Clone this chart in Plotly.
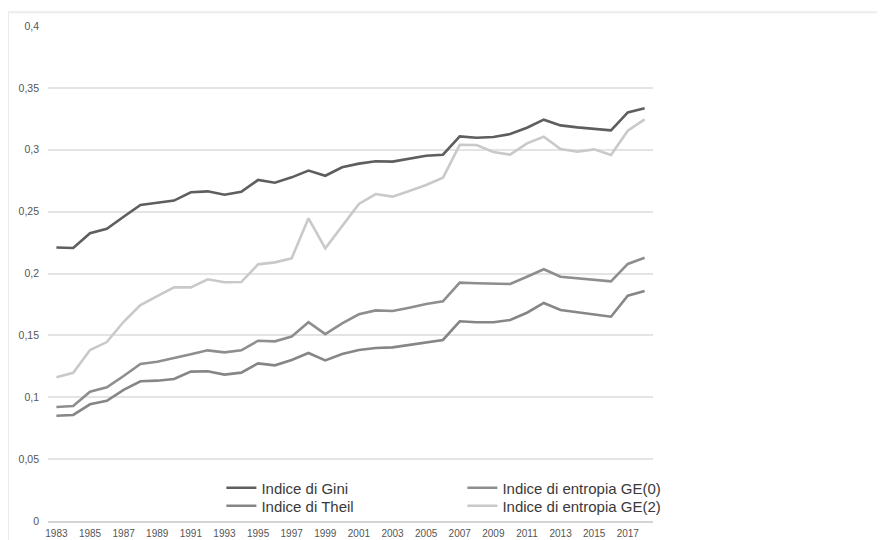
import plotly.graph_objects as go

years = [str(y) for y in range(1983, 2019)]

gini = [0.221, 0.2206, 0.2325, 0.2362, 0.2459, 0.2554, 0.2572, 0.2589, 0.2656, 0.2664,
        0.2637, 0.2661, 0.2756, 0.2734, 0.2777, 0.2832, 0.279, 0.2858, 0.2888, 0.2907,
        0.2904, 0.2928, 0.2952, 0.296, 0.3108, 0.3097, 0.3103, 0.3127, 0.3178, 0.3243,
        0.3197, 0.3181, 0.317, 0.3157, 0.3302, 0.3335]

ge2 = [0.1161, 0.1198, 0.1382, 0.1446, 0.161, 0.1745, 0.1818, 0.1888, 0.1888, 0.1953,
       0.1929, 0.1931, 0.2074, 0.209, 0.2123, 0.2446, 0.2203, 0.2378, 0.2562, 0.2642,
       0.2621, 0.2667, 0.2715, 0.2774, 0.304, 0.3038, 0.2982, 0.296, 0.3052, 0.3105,
       0.3006, 0.2984, 0.3003, 0.2958, 0.3154, 0.3246]

ge0 = [0.0921, 0.0929, 0.1045, 0.108, 0.1172, 0.1269, 0.1287, 0.1315, 0.1347, 0.1379,
       0.1363, 0.1379, 0.1457, 0.1452, 0.149, 0.1606, 0.151, 0.1597, 0.167, 0.1702,
       0.1697, 0.1724, 0.1754, 0.1775, 0.1926, 0.1921, 0.1918, 0.1915, 0.1974, 0.2034,
       0.1974, 0.1961, 0.195, 0.1937, 0.2077, 0.2128]

theil = [0.0851, 0.0857, 0.0943, 0.0972, 0.1059, 0.1129, 0.1134, 0.1147, 0.1207, 0.121,
         0.1183, 0.1199, 0.1274, 0.1258, 0.1301, 0.1358, 0.1298, 0.1349, 0.1382, 0.1398,
         0.1403, 0.1422, 0.1444, 0.1463, 0.1614, 0.1606, 0.1606, 0.1624, 0.1683, 0.1762,
         0.1705, 0.1689, 0.167, 0.1651, 0.1821, 0.1859]

y_tickvals = [0, 0.05, 0.1, 0.15, 0.2, 0.25, 0.3, 0.35, 0.4]
y_ticktext = ["0", "0,05", "0,1", "0,15", "0,2", "0,25", "0,3", "0,35", "0,4"]
x_tickvals = years[::2]

font_fam = "Liberation Sans, Arial, sans-serif"

fig = go.Figure()
fig.add_trace(go.Scatter(x=years, y=gini, mode="lines", name="Indice di Gini",
                         line=dict(color="#5e5e5e", width=2.6), legend="legend"))
fig.add_trace(go.Scatter(x=years, y=ge0, mode="lines", name="Indice di entropia GE(0)",
                         line=dict(color="#8e8e8e", width=2.6), legend="legend"))
fig.add_trace(go.Scatter(x=years, y=theil, mode="lines", name="Indice di Theil",
                         line=dict(color="#868686", width=2.6), legend="legend2"))
fig.add_trace(go.Scatter(x=years, y=ge2, mode="lines", name="Indice di entropia GE(2)",
                         line=dict(color="#c9c9c9", width=2.6), legend="legend2"))

legend_common = dict(orientation="h", xanchor="left", yanchor="middle",
                     bgcolor="rgba(0,0,0,0)", entrywidth=196, itemwidth=30,
                     font=dict(family=font_fam, size=15, color="#3a3a3a"),
                     tracegroupgap=0)

fig.update_layout(
    width=877, height=532,
    margin=dict(l=40, r=232, t=18, b=19, autoexpand=False),
    paper_bgcolor="white", plot_bgcolor="white",
    showlegend=True,
    legend=dict(x=0.2866, y=0.0667, **legend_common),
    legend2=dict(x=0.2866, y=0.0303, **legend_common),
    xaxis=dict(type="category", tickmode="array", tickvals=x_tickvals,
               range=[-0.5, len(years) - 0.5],
               showgrid=False, showline=True, linecolor="#d4d4d4", linewidth=1.5,
               ticks="", tickfont=dict(family=font_fam, size=10, color="#555555"),
               ticklabelstandoff=2, automargin=False, zeroline=False),
    yaxis=dict(range=[0, 0.4], tickmode="array", tickvals=y_tickvals,
               ticktext=y_ticktext, showgrid=True, gridcolor="#e4e4e4", gridwidth=1.5,
               zeroline=False, showline=False, ticks="",
               tickfont=dict(family=font_fam, size=10.5, color="#555555"),
               ticklabelstandoff=8, automargin=False),
    shapes=[dict(type="rect", xref="paper", yref="paper",
                 x0=-0.066, x1=1.45, y0=-0.1, y1=1.028,
                 line=dict(color="#ececec", width=2), layer="below")],
)

fig.write_html("out.html")
